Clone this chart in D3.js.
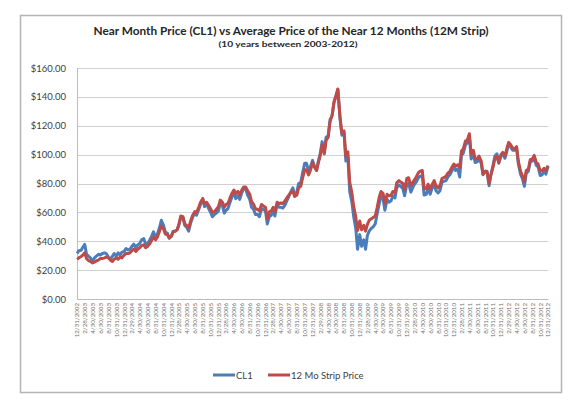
<!DOCTYPE html>
<html><head><meta charset="utf-8">
<script src="https://cdn.jsdelivr.net/npm/d3@7"></script>
<style>body{margin:0;background:#fff}svg{display:block}</style>
</head><body>
<svg id="c" width="579" height="406"></svg>
<script>
const title = "Near Month Price (CL1) vs Average Price of the Near 12 Months (12M Strip)";
const subtitle = "(10 years between 2003-2012)";
const seriesNames = ["CL1", "12 Mo Strip Price"];
const yTicks = [0, 20, 40, 60, 80, 100, 120, 140, 160];
// semi-monthly observations (1st and 15th of each month, 2003-2012) plus 12/31/2012
const cl1 = [
 31.5,33.5,33.8,36.0,37.8,31.0,29.5,28.5,25.8,28.5,29.8,31.0,30.5,31.5,32.0,31.5,29.0,27.5,29.5,31.5,29.5,32.0,30.5,32.5,
 33.0,35.0,34.0,34.5,36.5,38.0,35.5,37.5,38.5,41.0,41.8,38.0,38.5,40.5,43.5,46.5,43.0,45.0,49.5,54.5,51.0,46.5,45.5,42.0,
 43.5,47.0,47.0,48.0,51.5,56.5,56.0,51.0,49.5,47.0,53.0,56.5,59.5,58.0,62.0,65.5,69.5,64.0,66.0,63.0,60.0,57.0,58.5,59.5,
 61.0,66.5,64.5,59.5,61.5,62.5,67.0,70.5,73.5,69.5,71.5,69.0,73.5,76.5,76.0,72.0,69.0,63.5,62.0,58.5,58.5,57.0,62.5,62.0,
 61.0,52.0,57.5,58.0,61.5,57.5,65.5,63.5,63.5,63.0,65.0,68.0,71.0,74.0,77.0,72.0,74.0,80.0,80.5,87.0,94.0,94.0,89.0,91.5,
 96.0,92.0,89.0,95.5,101.0,109.0,101.5,112.0,113.0,124.0,127.0,136.0,140.5,145.0,125.0,113.5,115.0,95.5,98.0,74.5,67.0,57.0,49.0,34.5,
 44.6,36.5,41.0,34.5,44.0,47.0,49.0,50.0,52.0,58.5,66.0,71.0,69.5,61.5,69.0,67.0,68.0,71.5,70.0,77.0,79.0,78.0,76.5,71.5,
 79.5,80.0,74.0,77.0,79.5,81.0,84.0,85.0,85.5,72.0,72.5,77.0,72.5,76.5,79.5,75.0,73.5,75.0,81.0,81.5,82.0,84.5,86.0,88.5,
 91.5,89.0,90.0,84.5,99.5,101.0,107.0,108.0,113.5,97.0,101.0,94.5,95.0,97.5,94.0,86.0,88.5,88.5,78.5,86.0,92.5,99.0,100.5,94.0,
 99.0,100.5,97.5,102.0,107.5,105.5,103.0,103.0,105.0,93.5,86.5,83.5,78.0,87.0,88.5,95.0,95.5,98.5,92.5,91.5,85.5,86.0,88.5,86.5,
 91.8
];
const strip = [
 27.5,28.5,29.5,30.5,32.0,28.0,26.5,26.0,25.0,25.5,26.5,27.0,28.0,28.0,28.5,29.0,28.5,27.0,26.0,27.5,28.5,27.5,29.0,28.5,
 30.5,31.5,31.5,32.0,33.5,34.5,33.0,34.5,35.5,37.0,37.5,35.5,36.5,38.0,40.5,43.0,41.0,43.0,47.0,50.5,48.5,45.0,44.5,42.5,
 43.5,46.5,47.0,48.0,52.0,57.5,57.0,52.0,51.0,49.0,54.5,58.0,60.5,60.0,63.5,67.0,69.5,66.0,67.0,65.0,62.5,60.0,60.5,62.0,
 64.0,68.5,67.0,63.5,65.5,66.0,70.0,73.0,75.5,73.0,74.5,72.0,75.5,77.5,77.5,75.0,72.5,67.5,65.5,62.5,62.0,61.0,65.5,64.5,
 63.5,55.5,60.5,61.0,63.5,60.5,67.0,66.0,66.5,66.0,68.0,70.0,72.0,73.5,75.0,71.0,72.0,77.0,78.0,83.5,89.5,89.5,86.0,89.0,
 94.5,91.5,89.0,94.5,99.5,106.5,100.5,110.0,112.0,122.5,127.5,136.5,141.0,145.5,126.0,115.0,116.5,99.0,102.0,81.0,73.5,64.0,57.0,47.5,
 54.0,48.0,51.0,47.0,51.5,54.5,55.5,56.5,57.5,63.0,70.5,74.5,73.0,66.0,72.5,71.5,72.0,74.5,73.5,80.5,82.0,81.0,80.0,75.5,
 83.5,84.0,78.5,80.5,82.5,84.5,87.5,88.5,89.0,76.5,76.5,79.5,76.0,79.0,82.0,78.5,77.0,78.5,83.5,84.0,85.0,87.0,88.5,91.0,
 93.5,92.0,93.0,91.0,102.5,104.0,109.5,110.0,114.5,100.0,103.0,97.0,97.0,99.0,95.5,86.5,88.5,88.0,80.0,86.0,91.5,97.5,99.0,94.5,
 100.0,101.5,99.0,104.0,108.5,107.0,104.5,104.0,105.5,95.5,88.5,85.5,81.0,89.0,90.0,96.5,97.0,99.5,94.5,93.5,88.5,89.0,90.5,89.0,
 92.5
];
// category dates
const dates = [];
for (let y = 2003; y <= 2012; y++) for (let m = 0; m < 12; m++) { dates.push(new Date(y, m, 1)); dates.push(new Date(y, m, 15)); }
dates.push(new Date(2012, 11, 31));
// x tick labels: bimonthly month-ends
const xTickDates = [];
for (let y = 2002; y <= 2012; y++) for (let m = 1; m <= 11; m += 2) {
  const d = new Date(y, m + 1, 0);
  if (d >= new Date(2002, 11, 31) && d <= new Date(2012, 11, 31)) xTickDates.push(d);
}

const svg = d3.select("#c");
const L = 77, R = 548, T = 68, B = 299;
const x = d3.scaleTime().domain([new Date(2002, 11, 31), new Date(2012, 11, 31)]).range([L, R]);
const y = d3.scaleLinear().domain([0, 160]).range([B, T]);
const font = "Lato, 'Open Sans', sans-serif";

svg.append("rect").attr("x", 20.5).attr("y", 15.5).attr("width", 541).attr("height", 377)
  .attr("fill", "#fff").attr("stroke", "#b4b4b4").attr("stroke-width", 1.5);

svg.append("text").attr("x", 291).attr("y", 35).attr("text-anchor", "middle")
  .attr("font-family", font).attr("font-weight", "bold").attr("font-size", 10.5).attr("fill", "#262626")
  .attr("textLength", 395).attr("lengthAdjust", "spacingAndGlyphs").text(title);
svg.append("text").attr("x", 288).attr("y", 47).attr("text-anchor", "middle")
  .attr("font-family", font).attr("font-weight", "bold").attr("font-size", 7.5).attr("fill", "#262626")
  .attr("textLength", 139).attr("lengthAdjust", "spacingAndGlyphs").text(subtitle);

// gridlines
svg.append("g").selectAll("line").data(yTicks.filter(d => d > 0)).join("line")
  .attr("x1", L).attr("x2", R).attr("y1", d => Math.round(y(d)) + 0.5).attr("y2", d => Math.round(y(d)) + 0.5)
  .attr("stroke", "#d0d0d0").attr("stroke-width", 1);

// y axis
const yAxis = d3.axisLeft(y).tickValues(yTicks).tickSize(0).tickPadding(11)
  .tickFormat(d => "$" + d3.format(".2f")(d));
const gy = svg.append("g").attr("transform", `translate(${L},0)`).call(yAxis);
gy.select(".domain").attr("stroke", "#bdbdbd");
gy.selectAll("text").attr("font-family", font).attr("font-size", 9.5).attr("fill", "#404040");

// x axis
const xAxis = d3.axisBottom(x).tickValues(xTickDates).tickSize(0).tickPadding(0)
  .tickFormat(d3.timeFormat("%-m/%-d/%Y"));
const gx = svg.append("g").attr("transform", `translate(0,${B})`).call(xAxis);
gx.select(".domain").attr("stroke", "#bdbdbd");
gx.selectAll("text").attr("font-family", font).attr("font-size", 6.2).attr("fill", "#707070")
  .attr("text-anchor", "end").attr("transform", "rotate(-90)").attr("x", -4).attr("y", 0).attr("dy", "0.32em");

// lines
const colors = ["#4a7ebb", "#be4b48"];
[cl1, strip].forEach((vals, i) => {
  const line = d3.line().x((d, j) => x(dates[j])).y(d => y(d));
  svg.append("path").datum(vals).attr("d", line).attr("fill", "none")
    .attr("stroke", colors[i]).attr("stroke-width", 3).attr("stroke-linejoin", "round");
});

// legend
const leg = svg.append("g");
const legItems = [{x: 213, name: seriesNames[0], c: colors[0]}, {x: 268, name: seriesNames[1], c: colors[1]}];
legItems.forEach(it => {
  leg.append("line").attr("x1", it.x).attr("x2", it.x + 22).attr("y1", 375).attr("y2", 375)
    .attr("stroke", it.c).attr("stroke-width", 3);
  leg.append("text").attr("x", it.x + 23).attr("y", 378.5).attr("font-family", font).attr("font-size", 9.5)
    .attr("fill", "#404040").text(it.name);
});
</script>
</body></html>
